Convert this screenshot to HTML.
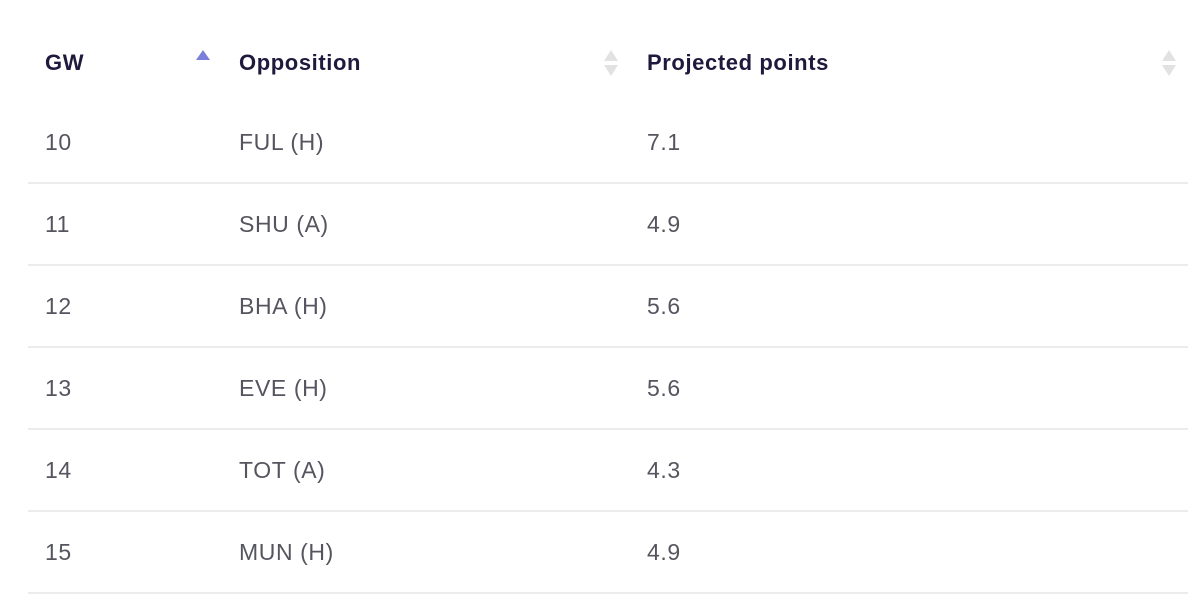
<!DOCTYPE html>
<html><head><meta charset="utf-8"><style>
body{margin:0;width:1200px;height:600px;background:#fff;font-family:"Liberation Sans",sans-serif;position:relative;overflow:hidden}
.h{position:absolute;top:50px;font-size:22px;font-weight:bold;color:#1f1a3d;line-height:26px;letter-spacing:0.6px}
.c{position:absolute;font-size:23px;color:#55555f;line-height:26px;letter-spacing:0.6px}
.line{position:absolute;left:28px;width:1160px;height:2px;background:#ececec}
.up{position:absolute;width:0;height:0;border-left:7px solid transparent;border-right:7px solid transparent;border-bottom:10px solid #7b7fd9}
.sort{position:absolute;width:14px;height:28px}
.sort:before{content:"";position:absolute;top:0;left:0;border-left:7px solid transparent;border-right:7px solid transparent;border-bottom:11px solid #e2e2e2}
.sort:after{content:"";position:absolute;top:15px;left:0;border-left:7px solid transparent;border-right:7px solid transparent;border-top:11px solid #e2e2e2}
</style></head><body>
<div class="h" style="left:45px">GW</div>
<div class="up" style="left:196px;top:50px"></div>
<div class="h" style="left:239px">Opposition</div>
<div class="sort" style="left:604px;top:50px"></div>
<div class="h" style="left:647px">Projected points</div>
<div class="sort" style="left:1162px;top:50px"></div>
<div id="rows"></div>
<script>
const gws=["10","11","12","13","14","15"];
const opps=["FUL (H)","SHU (A)","BHA (H)","EVE (H)","TOT (A)","MUN (H)"];
const pts=["7.1","4.9","5.6","5.6","4.3","4.9"];
const host=document.getElementById('rows');
gws.forEach((g,i)=>{
  const y=129+i*82;
  const vals=[[45,g,'gw-cell'],[239,opps[i],'opposition-cell'],[647,pts[i],'points-cell']];
  vals.forEach(v=>{
    const d=document.createElement('div');
    d.className='c';d.style.left=v[0]+'px';d.style.top=y+'px';d.textContent=v[1];
    
    
    host.appendChild(d);
  });
  const l=document.createElement('div');
  l.className='line';l.style.top=(182+i*82)+'px';
  
  
  host.appendChild(l);
});
</script>
</body></html>
